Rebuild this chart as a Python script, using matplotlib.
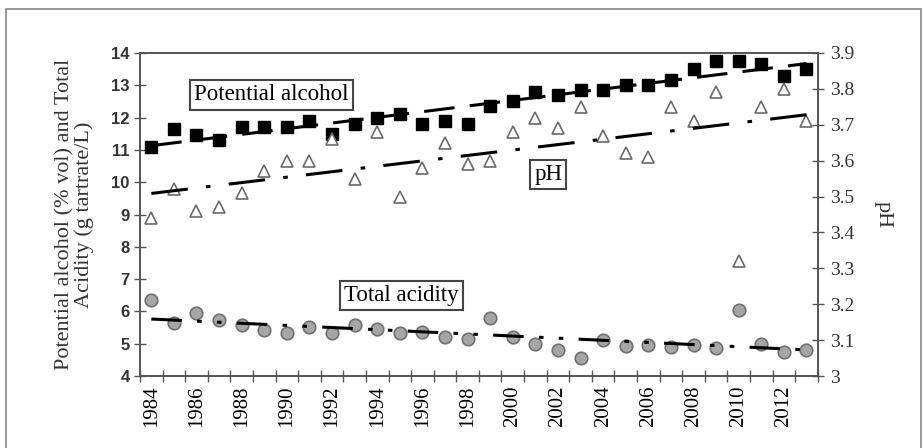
import matplotlib
matplotlib.use('Agg')
import matplotlib.pyplot as plt
from matplotlib.patches import Rectangle
import numpy as np

# data
years = list(range(1984, 2014))
potential_alcohol = [11.1, 11.65, 11.45, 11.3, 11.7, 11.7, 11.7, 11.9, 11.5, 11.8,
                     12.0, 12.1, 11.8, 11.9, 11.8, 12.35, 12.5, 12.8, 12.7, 12.85,
                     12.85, 13.0, 13.0, 13.15, 13.5, 13.75, 13.75, 13.65, 13.3, 13.5]
total_acidity = [6.35, 5.64, 5.95, 5.73, 5.58, 5.42, 5.33, 5.52, 5.33, 5.58,
                 5.45, 5.33, 5.36, 5.2, 5.15, 5.8, 5.2, 5.0, 4.8, 4.55,
                 5.1, 4.93, 4.96, 4.9, 4.96, 4.87, 6.05, 5.0, 4.75, 4.8]
ph = [3.44, 3.52, 3.46, 3.47, 3.51, 3.57, 3.60, 3.60, 3.66, 3.55,
      3.68, 3.50, 3.58, 3.65, 3.59, 3.60, 3.68, 3.72, 3.69, 3.75,
      3.67, 3.62, 3.61, 3.75, 3.71, 3.79, 3.32, 3.75, 3.80, 3.71]

serif = 'Liberation Serif'
x = np.arange(len(years))

fig = plt.figure(figsize=(9.23, 4.48), dpi=100)
fig.patches.append(Rectangle((0.006, -0.01), 0.992, 0.99, transform=fig.transFigure,
                             fill=False, edgecolor='#888888', linewidth=1.2))

ax = fig.add_axes([0.1517, 0.1607, 0.7343, 0.721])
ax2 = ax.twinx()

# trend lines (linear fits)
fa = np.polyfit(x, potential_alcohol, 1)
ft = np.polyfit(x, total_acidity, 1)
fp = np.polyfit(x, ph, 1)
ax.plot(x, np.polyval(fa, x), color='black', lw=2.2, dashes=(10, 5), zorder=3)
ax.plot(x, np.polyval(ft, x), color='black', lw=2.2, dashes=(10, 5, 1.5, 5, 1.5, 5), zorder=3)
ax2.plot(x, np.polyval(fp, x), color='black', lw=2.2, dashes=(12, 6, 1.5, 6), zorder=3)

ax.plot(x, potential_alcohol, 's', color='black', ms=8.5, zorder=4)
ax.plot(x, total_acidity, 'o', mfc='#a6a6a6', mec='#707070', mew=1.2, ms=9, zorder=2)
ax2.plot(x, ph, '^', mfc='white', mec='#6a6a6a', mew=1.2, ms=9, zorder=2)

ax.set_xlim(-0.5, len(years) - 0.5)
ax.set_ylim(4, 14)
ax2.set_ylim(3, 3.9)
ax.set_yticks(range(4, 15))
ax2.set_yticks(np.round(np.arange(3.0, 3.95, 0.1), 1))
ax2.set_yticklabels(['3'] + ['%.1f' % v for v in np.arange(3.1, 3.95, 0.1)])

ax.set_xticks(x[::2])
ax.set_xticklabels([str(y) for y in years[::2]], rotation=90, family=serif, fontsize=15)
ax.set_xticks(np.arange(-0.5, len(years)), minor=True)
ax.tick_params(axis='x', which='major', length=0, pad=7)
ax.tick_params(axis='x', which='minor', direction='inout', length=9, width=1, color='#555555')
ax.tick_params(axis='y', direction='inout', length=9, width=1, color='#555555', labelsize=12, pad=3)
for lab in ax.get_yticklabels():
    lab.set_family('Liberation Sans')
    lab.set_fontweight('bold')
    lab.set_color('#333333')
ax2.tick_params(axis='y', direction='inout', length=9, width=1, color='#555555', labelsize=14, pad=4)
for lab in ax2.get_yticklabels():
    lab.set_family(serif)
    lab.set_color('#333333')

for a in (ax, ax2):
    for s in a.spines.values():
        s.set_color('#555555')
        s.set_linewidth(1.2)

ax.set_ylabel('Potential alcohol (% vol) and Total\nAcidity (g tartrate/L)',
              family=serif, fontsize=16, color='#333333', labelpad=12, linespacing=1.0)
ax2.set_ylabel('pH', family=serif, fontsize=16, color='#333333', rotation=270, labelpad=28)

box = dict(boxstyle='square,pad=0.18', fc='white', ec='#444444', lw=1.5)
ax.text(1.9, 12.7, 'Potential alcohol', family=serif, fontsize=16.5, va='center', bbox=box, zorder=5)
ax.text(16.95, 10.25, 'pH', family=serif, fontsize=16.5, va='center', bbox=box, zorder=5)
ax.text(8.55, 6.5, 'Total acidity', family=serif, fontsize=16.5, va='center', bbox=box, zorder=5)

fig.savefig('out.png', dpi=100)
